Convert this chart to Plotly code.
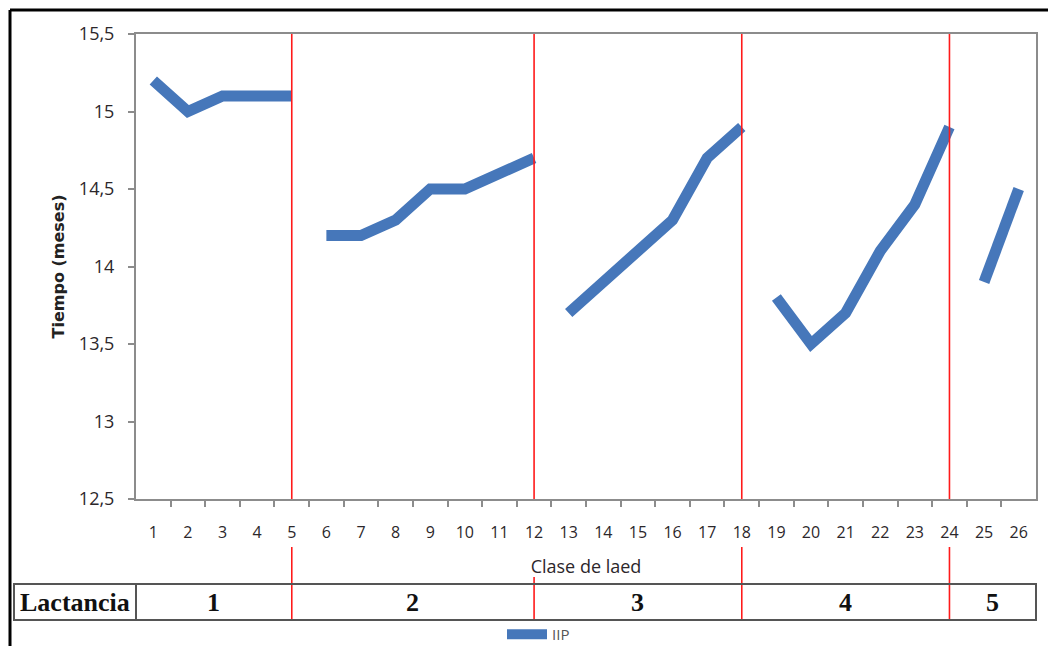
import plotly.graph_objects as go

# Intervalo entre partos (IIP) por clase de edad, agrupado por lactancia
clase = list(range(1, 27))
iip = [15.2, 15.0, 15.1, 15.1, 15.1,
       14.2, 14.2, 14.3, 14.5, 14.5, 14.6, 14.7,
       13.7, 13.9, 14.1, 14.3, 14.7, 14.9,
       13.8, 13.5, 13.7, 14.1, 14.4, 14.9,
       13.9, 14.5]
lactancia = [1] * 5 + [2] * 7 + [3] * 6 + [4] * 6 + [5] * 2
y_ticks = [12.5, 13, 13.5, 14, 14.5, 15, 15.5]

LINE_BLUE = "#4677BA"
AXIS_GREY = "#8c8c8c"
TEXT = "#2c272b"

# figure geometry (pixels)
W, H = 1048, 646
L, R, T, B = 136, 12, 34, 147
PW, PH = W - L - R, H - T - B


def px(xp):
    return (xp - L) / PW


def py(yp):
    return (H - B - yp) / PH


fig = go.Figure()

groups = sorted(set(lactancia))
for i, g in enumerate(groups):
    xs = [c for c, l in zip(clase, lactancia) if l == g]
    ys = [v for v, l in zip(iip, lactancia) if l == g]
    fig.add_trace(go.Scatter(
        x=xs, y=ys, mode="lines", name="IIP",
        line=dict(color=LINE_BLUE, width=11),
        legendgroup="iip", showlegend=(i == 0),
    ))

# last class of each lactation marks the boundary (red lines)
bounds = [max(c for c, l in zip(clase, lactancia) if l == g) for g in groups[:-1]]

RED = dict(color="#ff1a1a", width=1.6)
shapes = []
table_top, table_bot = py(584), py(620)
for k, b in enumerate(bounds):
    shapes.append(dict(type="line", xref="x", yref="paper", x0=b, x1=b, y0=0, y1=1,
                       line=RED, layer="above"))
    start = py(577) if k == 1 else py(547)
    shapes.append(dict(type="line", xref="x", yref="paper", x0=b, x1=b,
                       y0=table_bot, y1=start, line=RED, layer="above"))

# Lactancia table row
shapes.append(dict(type="rect", xref="paper", yref="paper", x0=px(14), x1=px(1036),
                   y0=table_bot, y1=table_top, line=dict(color="#555555", width=2)))
shapes.append(dict(type="line", xref="paper", yref="paper", x0=0, x1=0,
                   y0=table_bot, y1=table_top, line=dict(color="#555555", width=2)))

# outer frame (top and left edges)
shapes.append(dict(type="line", xref="paper", yref="paper", x0=px(10), x1=px(1048),
                   y0=py(10), y1=py(10), line=dict(color="black", width=3)))
shapes.append(dict(type="line", xref="paper", yref="paper", x0=px(10), x1=px(10),
                   y0=py(10), y1=py(646), line=dict(color="black", width=3)))

cell_font = dict(family="Liberation Serif", size=26, color="#111111")
row_mid = (table_top + table_bot) / 2
annotations = [dict(text="<b>Lactancia</b>", xref="paper", yref="paper",
                    x=px(75), y=row_mid, xanchor="center", yanchor="middle",
                    showarrow=False, font=cell_font)]
edges = [0.5] + bounds + [26.5]
for g, a, b in zip(groups, edges[:-1], edges[1:]):
    annotations.append(dict(text=f"<b>{g}</b>", xref="x", yref="paper",
                            x=(a + b) / 2, y=row_mid, xanchor="center",
                            yanchor="middle", showarrow=False, font=cell_font))

fig.update_layout(
    width=W, height=H,
    margin=dict(l=L, r=R, t=T, b=B, autoexpand=False),
    paper_bgcolor="white", plot_bgcolor="white",
    separators=",.",
    font=dict(family="Open Sans", color=TEXT),
    shapes=shapes, annotations=annotations,
    showlegend=True,
    legend=dict(orientation="h", x=px(502), y=py(618), xanchor="left", yanchor="top",
                font=dict(size=15, color="#555555"), bgcolor="rgba(0,0,0,0)",
                itemwidth=40),
    xaxis=dict(
        range=[0.5, 26.5], tickmode="array", tickvals=clase,
        ticktext=[str(c) for c in clase], ticks="", ticklabelstandoff=18,
        tickfont=dict(size=16, color=TEXT), automargin=False,
        minor=dict(tickmode="array", tickvals=[c + 0.5 for c in clase[:-1]],
                   ticks="outside", ticklen=6, tickwidth=2, tickcolor=AXIS_GREY),
        showline=True, linecolor=AXIS_GREY, linewidth=2, mirror=True,
        showgrid=False, zeroline=False,
        title=dict(text="Clase de laed", font=dict(size=18, color=TEXT), standoff=18),
    ),
    yaxis=dict(
        range=[12.5, 15.5], tickmode="array", tickvals=y_ticks,
        ticks="outside", ticklen=6, tickwidth=2, tickcolor=AXIS_GREY,
        ticklabelstandoff=10, automargin=False,
        tickfont=dict(size=18, color=TEXT),
        showline=True, linecolor=AXIS_GREY, linewidth=2, mirror=True,
        showgrid=False, zeroline=False,
        title=dict(text="<b>Tiempo (meses)</b>",
                   font=dict(family="DejaVu Sans", size=16, color="#222222"),
                   standoff=10),
    ),
)

fig.write_html("out.html")
